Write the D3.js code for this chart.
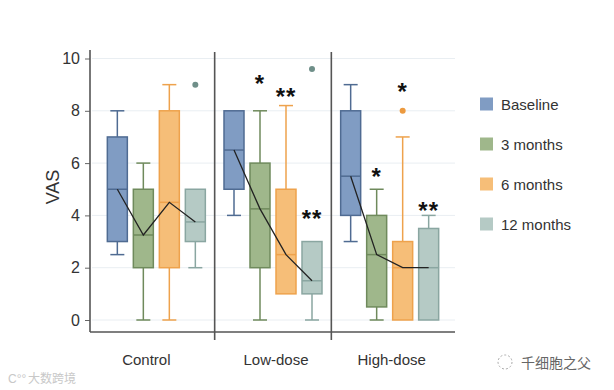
<!DOCTYPE html>
<html><head><meta charset="utf-8">
<script src="https://cdn.jsdelivr.net/npm/d3@7"></script>
<style>body{margin:0;background:#fff}svg{display:block;font-family:"Liberation Sans",Arial,sans-serif}</style>
</head><body><svg id="c" width="614" height="390"></svg>
<script>
const groups = ["Control", "Low-dose", "High-dose"];
const series = ["Baseline", "3 months", "6 months", "12 months"];
// [whiskerLow, q1, median, q3, whiskerHigh] per group per series
const baselineStats = [[2.5, 3, 5, 7, 8], [4, 5, 6.5, 8, 8], [3, 4, 5.5, 8, 9]];
const m3Stats = [[0, 2, 3.25, 5, 6], [0, 2, 4.25, 6, 8], [0, 0.5, 2.5, 4, 5]];
const m6Stats = [[0, 2, 4.5, 8, 9], [1, 1, 2.5, 5, 8.2], [0, 0, 2, 3, 7]];
const m12Stats = [[2, 3, 3.75, 5, 5], [0, 1, 1.5, 3, 3], [0, 0, 2, 3.5, 4]];
// outliers: [group, series, value]
const outliers = [["Control", "12 months", 9], ["Low-dose", "12 months", 9.6], ["High-dose", "6 months", 8]];
// significance marks: [group, series, label, value]
const marks = [["Low-dose", "3 months", "*", 9.2], ["Low-dose", "6 months", "**", 8.7], ["Low-dose", "12 months", "**", 4.05],
               ["High-dose", "3 months", "*", 5.65], ["High-dose", "6 months", "*", 8.9], ["High-dose", "12 months", "**", 4.35]];
const yTicks = [0, 2, 4, 6, 8, 10];

const fills = ["#809cc3", "#9fb78b", "#f6be78", "#b5cac5"];
const strokes = ["#4f6b92", "#6f8a5c", "#eea24c", "#8aa6a1"];
const outlierFill = {"Baseline": "#4f6b92", "3 months": "#6f8a5c", "6 months": "#ec9a3f", "12 months": "#6f8f89"};

const statsBySeries = [baselineStats, m3Stats, m6Stats, m12Stats];
const svg = d3.select("#c");
const y = d3.scaleLinear().domain([0, 10]).range([320, 58.5]);
const gx = d3.scaleBand().domain(groups).range([98, 448]);
const sx = d3.scalePoint().domain(series).range([-39, 39]);
const bw = 20;
const cx = (g, s) => gx(g) + gx.bandwidth() / 2 + sx(s);

// grid
svg.append("g").selectAll("line").data(yTicks).join("line")
  .attr("x1", 92).attr("x2", 455).attr("y1", d => y(d)).attr("y2", d => y(d))
  .attr("stroke", "#e9eef2").attr("stroke-width", 1);

// y axis
const ya = svg.append("g").attr("transform", "translate(90,0)")
  .call(d3.axisLeft(y).tickValues(yTicks).tickSize(5).tickPadding(5));
ya.select(".domain").remove();
ya.selectAll(".tick line").attr("stroke", "#666");
ya.selectAll(".tick text").attr("font-size", 16).attr("fill", "#333").attr("font-family", "Liberation Sans, Arial, sans-serif");
svg.append("line").attr("x1", 90).attr("x2", 90).attr("y1", 50).attr("y2", 332).attr("stroke", "#555").attr("stroke-width", 1.6);
svg.append("line").attr("x1", 90).attr("x2", 455).attr("y1", 332).attr("y2", 332).attr("stroke", "#555").attr("stroke-width", 1.6);
// panel separators
svg.append("g").selectAll("line").data(groups.slice(1)).join("line")
  .attr("x1", d => gx(d)).attr("x2", d => gx(d)).attr("y1", 52).attr("y2", 340)
  .attr("stroke", "#555").attr("stroke-width", 1.6);

svg.append("text").attr("transform", "translate(59,187) rotate(-90)").attr("text-anchor", "middle")
  .attr("font-size", 18).attr("fill", "#333").text("VAS");

// x labels
svg.append("g").selectAll("text").data(groups).join("text")
  .attr("x", (d, i) => gx(d) + gx.bandwidth() / 2 + [-10, 3, 2][i]).attr("y", 365)
  .attr("text-anchor", "middle").attr("font-size", 15).attr("fill", "#333").text(d => d);

// boxes
series.forEach((s, si) => {
  groups.forEach((g, gi) => {
    const [lo, q1, md, q3, hi] = statsBySeries[si][gi];
    const c = cx(g, s);
    const gg = svg.append("g").attr("stroke", strokes[si]).attr("stroke-width", 1.5);
    gg.append("line").attr("x1", c).attr("x2", c).attr("y1", y(hi)).attr("y2", y(q3));
    gg.append("line").attr("x1", c).attr("x2", c).attr("y1", y(q1)).attr("y2", y(lo));
    if (hi > q3) gg.append("line").attr("x1", c - 7).attr("x2", c + 7).attr("y1", y(hi)).attr("y2", y(hi));
    if (lo < q1) gg.append("line").attr("x1", c - 7).attr("x2", c + 7).attr("y1", y(lo)).attr("y2", y(lo));
    gg.append("rect").attr("x", c - bw / 2).attr("y", y(q3)).attr("width", bw).attr("height", y(q1) - y(q3))
      .attr("fill", fills[si]);
    gg.append("line").attr("x1", c - bw / 2).attr("x2", c + bw / 2).attr("y1", y(md)).attr("y2", y(md));
  });
});

// median connecting lines
groups.forEach((g, gi) => {
  const pts = series.map((s, si) => [cx(g, s), y(statsBySeries[si][gi][2])]);
  svg.append("path").attr("d", d3.line()(pts)).attr("fill", "none").attr("stroke", "#222").attr("stroke-width", 1.3);
});

// outliers
svg.append("g").selectAll("circle").data(outliers).join("circle")
  .attr("cx", d => cx(d[0], d[1])).attr("cy", d => y(d[2])).attr("r", 3)
  .attr("fill", d => outlierFill[d[1]]);

// stars
svg.append("g").selectAll("text").data(marks).join("text")
  .attr("x", d => cx(d[0], d[1])).attr("y", d => y(d[3]) + 13)
  .attr("text-anchor", "middle").attr("font-size", 24).attr("font-weight", "bold").attr("fill", "#111")
  .attr("letter-spacing", 1).text(d => d[2]);

// legend
const lg = svg.append("g").selectAll("g").data(series).join("g")
  .attr("transform", (d, i) => `translate(480,${104 + i * 40})`);
lg.append("rect").attr("x", 0).attr("y", -6.5).attr("width", 13).attr("height", 13).attr("fill", (d, i) => fills[i]);
lg.append("text").attr("x", 21).attr("y", 5.5).attr("font-size", 15).attr("fill", "#333").text(d => d);

// watermarks
svg.append("text").attr("x", 28).attr("y", 383).attr("font-size", 12).attr("fill", "#c8c8c8")
  .attr("font-family", "Noto Sans CJK SC").text("大数跨境");
svg.append("text").attr("x", 8).attr("y", 383).attr("font-size", 12).attr("fill", "#c8c8c8").text("C°°");
svg.append("text").attr("x", 521).attr("y", 368).attr("font-size", 14).attr("fill", "#666")
  .attr("font-family", "Noto Sans CJK SC").text("千细胞之父");
svg.append("circle").attr("cx", 505).attr("cy", 362).attr("r", 7).attr("fill", "none").attr("stroke", "#aaa").attr("stroke-dasharray", "2,2");
</script></body></html>
